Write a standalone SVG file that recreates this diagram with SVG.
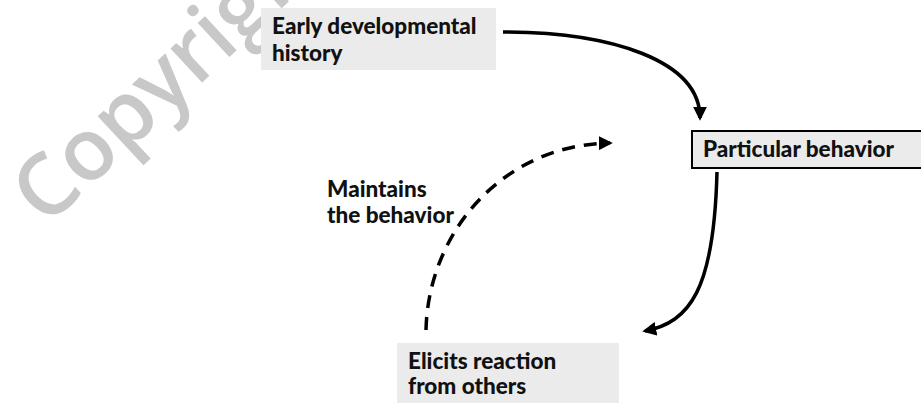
<svg xmlns="http://www.w3.org/2000/svg" width="921" height="403" viewBox="0 0 921 403">
<defs>
<style>
.box{fill:#ebebeb}
.t{font-family:Lato,"Open Sans","DejaVu Sans",sans-serif;font-weight:900;font-size:22.5px;fill:#111}
.wm{font-family:"Open Sans","Liberation Sans",sans-serif;font-weight:600;font-size:86px;fill:#c8c8c8}
.c{fill:none;stroke:#000;stroke-width:3.5}
.d{stroke-dasharray:13 9}
</style>
<marker id="ah" viewBox="0 0 10 10" refX="8" refY="5" markerWidth="4" markerHeight="4" orient="auto" markerUnits="strokeWidth">
<path d="M0,0 L10,5 L0,10 Z" fill="#000"/>
</marker>
</defs>
<text class="wm" transform="translate(46,228) rotate(-43)">Copyright</text>
<g id="early">
<rect class="box" x="261" y="8" width="235" height="62"/>
<text class="t" x="272" y="34">Early developmental</text>
<text class="t" x="272" y="61">history</text>
</g>
<g id="particular">
<rect class="box" x="692" y="131" width="235" height="37" stroke="#000" stroke-width="2"/>
<text class="t" x="703" y="157">Particular behavior</text>
</g>
<g id="elicits">
<rect class="box" x="397" y="343" width="222" height="70"/>
<text class="t" x="408" y="369">Elicits reaction</text>
<text class="t" x="408" y="394">from others</text>
</g>
<g id="label">
<text class="t" x="327" y="197">Maintains</text>
<text class="t" x="327" y="223">the behavior</text>
</g>
<g id="connectors">
<path class="c" d="M503,32 C610,32 700,60 700,118" marker-end="url(#ah)"/>
<path class="c" d="M717,172 C714,290 690,322 645,331" marker-end="url(#ah)"/>
<path class="c d" d="M426,330 C428,235 500,145 610,143" marker-end="url(#ah)"/>
</g>
</svg>
